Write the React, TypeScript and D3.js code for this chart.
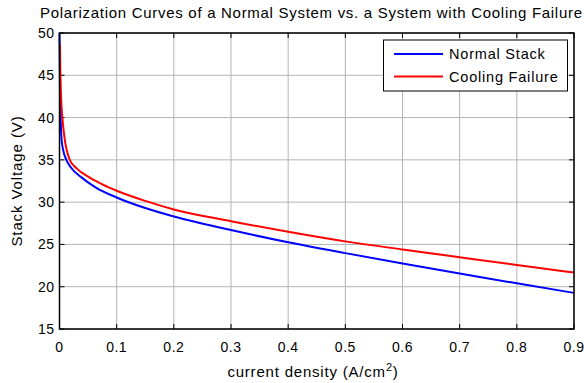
import React from "react";
import * as d3 from "d3";

// Polarization curves: current density (A/cm^2) vs stack voltage (V)
const normalX = [0, 0.0005, 0.001, 0.002, 0.0035, 0.006, 0.012, 0.02, 0.039, 0.063, 0.1, 0.15, 0.2, 0.3, 0.4, 0.5, 0.6, 0.7, 0.8, 0.9];
const normalV = [50, 46, 43, 40, 37.5, 36.3, 35, 34.1, 32.9, 31.75, 30.55, 29.3, 28.3, 26.7, 25.25, 23.97, 22.75, 21.57, 20.4, 19.27];

const coolingX = [0.0008, 0.0015, 0.003, 0.005, 0.009, 0.018, 0.03, 0.053, 0.075, 0.1, 0.15, 0.2, 0.3, 0.4, 0.5, 0.6, 0.7, 0.8, 0.9];
const coolingV = [48.6, 45.5, 42, 40, 37.5, 35, 34.0, 32.9, 32.1, 31.35, 30.15, 29.14, 27.75, 26.5, 25.36, 24.4, 23.48, 22.57, 21.68];

const xTicks = [0, 0.1, 0.2, 0.3, 0.4, 0.5, 0.6, 0.7, 0.8, 0.9];
const yTicks = [15, 20, 25, 30, 35, 40, 45, 50];

const seriesNames = ["Normal Stack", "Cooling Failure"];
const seriesColors = ["#0000ff", "#ff0000"];

const W = 584;
const H = 383;
const plot = { left: 59.5, right: 574, top: 33, bottom: 329 };
const FONT = "'Liberation Sans', Arial, sans-serif";

export default function App() {
  const x = d3.scaleLinear().domain([0, 0.9]).range([plot.left, plot.right]);
  const y = d3.scaleLinear().domain([15, 50]).range([plot.bottom, plot.top]);

  const line = d3
    .line<[number, number]>()
    .x((d) => x(d[0]))
    .y((d) => y(d[1]))
    .curve(d3.curveMonotoneX);

  const normalPts: [number, number][] = normalX.map((v, i) => [v, normalV[i]]);
  const coolingPts: [number, number][] = coolingX.map((v, i) => [v, coolingV[i]]);
  const series = [normalPts, coolingPts];

  const tickLen = 5;
  const legend = { x: 383.5, y: 40, w: 184, h: 51 };

  return (
    <svg
      width={W}
      height={H}
      style={{ position: "absolute", left: 0, top: 0, background: "#fff" }}
      fontFamily={FONT}
    >
      <rect x={0} y={0} width={W} height={H} fill="#fff" />
      {/* grid */}
      {xTicks.map((t) => (
        <line key={"gx" + t} x1={x(t)} x2={x(t)} y1={plot.top} y2={plot.bottom} stroke="#b4b4b4" strokeWidth={1} />
      ))}
      {yTicks.map((t) => (
        <line key={"gy" + t} x1={plot.left} x2={plot.right} y1={y(t)} y2={y(t)} stroke="#b4b4b4" strokeWidth={1} />
      ))}
      {/* ticks, inside on all four sides */}
      {xTicks.map((t) => (
        <g key={"tx" + t} stroke="#000" strokeWidth={1}>
          <line x1={x(t)} x2={x(t)} y1={plot.bottom} y2={plot.bottom - tickLen} />
          <line x1={x(t)} x2={x(t)} y1={plot.top} y2={plot.top + tickLen} />
        </g>
      ))}
      {yTicks.map((t) => (
        <g key={"ty" + t} stroke="#000" strokeWidth={1}>
          <line x1={plot.left} x2={plot.left + tickLen} y1={y(t)} y2={y(t)} />
          <line x1={plot.right} x2={plot.right - tickLen} y1={y(t)} y2={y(t)} />
        </g>
      ))}
      {/* curves */}
      {series.map((pts, i) => (
        <path key={seriesNames[i]} d={line(pts) || ""} fill="none" stroke={seriesColors[i]} strokeWidth={2} />
      ))}
      {/* axes box */}
      <rect
        x={plot.left}
        y={plot.top}
        width={plot.right - plot.left}
        height={plot.bottom - plot.top}
        fill="none"
        stroke="#000"
        strokeWidth={1.5}
      />
      {/* tick labels */}
      {xTicks.map((t) => (
        <text key={"lx" + t} x={x(t)} y={plot.bottom + 23} textAnchor="middle" fontSize={14} letterSpacing={0.5} fill="#000">
          {t === 0 ? "0" : String(t)}
        </text>
      ))}
      {yTicks.map((t) => (
        <text key={"ly" + t} x={plot.left - 5} y={y(t) + 5} textAnchor="end" fontSize={14} letterSpacing={0.5} fill="#000">
          {t}
        </text>
      ))}
      {/* title and axis labels */}
      <text x={40} y={18} textAnchor="start" fontSize={15} textLength={542} lengthAdjust="spacing" fill="#000">
        Polarization Curves of a Normal System vs. a System with Cooling Failure
      </text>
      <text x={313} y={377} textAnchor="middle" fontSize={15} letterSpacing={0.8} fill="#000">
        current density (A/cm
        <tspan dy={-6} fontSize={11}>2</tspan>
        <tspan dy={6}>)</tspan>
      </text>
      <text
        transform={`translate(22,${(plot.top + plot.bottom) / 2}) rotate(-90)`}
        textAnchor="middle"
        fontSize={15}
        letterSpacing={0.9}
        fill="#000"
      >
        Stack Voltage (V)
      </text>
      {/* legend */}
      <rect x={legend.x} y={legend.y} width={legend.w} height={legend.h} fill="#fff" stroke="#000" strokeWidth={1} />
      {seriesNames.map((name, i) => {
        const ly = legend.y + 14 + i * 22.5;
        return (
          <g key={"lg" + name}>
            <line x1={394} x2={443} y1={ly} y2={ly} stroke={seriesColors[i]} strokeWidth={2} />
            <text x={449} y={ly + 5} fontSize={14.5} letterSpacing={0.8} fill="#000">
              {name}
            </text>
          </g>
        );
      })}
    </svg>
  );
}
